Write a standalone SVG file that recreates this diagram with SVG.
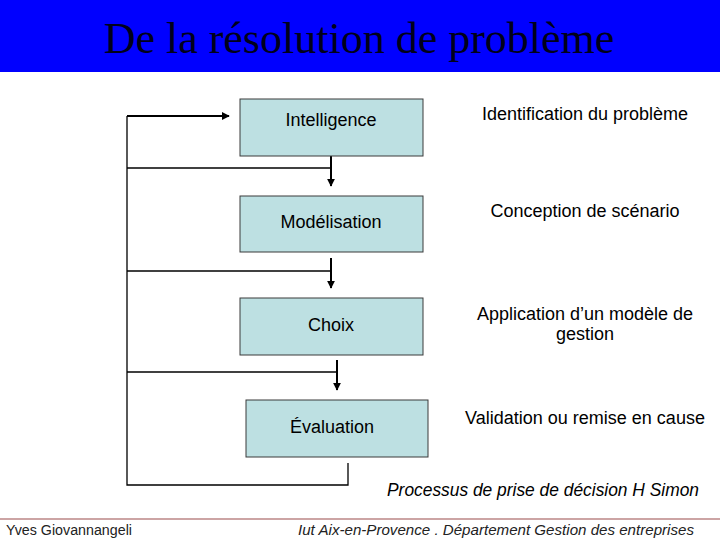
<svg xmlns="http://www.w3.org/2000/svg" width="720" height="540" viewBox="0 0 720 540">
<defs>
<style>
.box{fill:#bde0e2;stroke:#3a3a3a;stroke-width:1}
.lbl{font-family:"Liberation Sans",Arial,sans-serif;font-size:18px;fill:#000;text-anchor:middle}
.thin{fill:none;stroke:#000;stroke-width:1.3}
.thick{fill:none;stroke:#000;stroke-width:2}
</style>
<marker id="ah" viewBox="0 0 10 10" refX="9" refY="5" markerWidth="4" markerHeight="4" orient="auto" markerUnits="strokeWidth">
<path d="M0,0 L10,5 L0,10 z" fill="#000"/>
</marker>
</defs>
<rect x="0" y="0" width="720" height="72" fill="#0000ff"/>
<text x="359" y="53" font-family="'Liberation Serif','Times New Roman',serif" font-size="44" fill="#00001a" text-anchor="middle">De la résolution de problème</text>

<g id="connectors">
<path class="thin" d="M127,168 H331"/>
<path class="thin" d="M127,271 H331"/>
<path class="thin" d="M127,372 H337"/>
<path class="thin" d="M348,463 V485 H127 V116"/>
<path class="thick" d="M127,116 H229" marker-end="url(#ah)"/>
<path class="thick" d="M331,156 V186" marker-end="url(#ah)"/>
<path class="thick" d="M331,258 V288" marker-end="url(#ah)"/>
<path class="thick" d="M337,360 V390" marker-end="url(#ah)"/>
</g>

<g id="intelligence">
<rect class="box" x="240" y="99" width="183" height="57"/>
<text class="lbl" x="331" y="126">Intelligence</text>
</g>
<g id="modelisation">
<rect class="box" x="240" y="196" width="183" height="56"/>
<text class="lbl" x="331" y="228">Modélisation</text>
</g>
<g id="choix">
<rect class="box" x="240" y="298" width="183" height="57"/>
<text class="lbl" x="331" y="331">Choix</text>
</g>
<g id="evaluation">
<rect class="box" x="246" y="400" width="182" height="57"/>
<text class="lbl" x="332" y="433">Évaluation</text>
</g>

<g id="descriptions">
<text class="lbl" x="585" y="120">Identification du problème</text>
<text class="lbl" x="585" y="217">Conception de scénario</text>
<text class="lbl" x="585" y="320">Application d’un modèle de</text>
<text class="lbl" x="585" y="340">gestion</text>
<text class="lbl" x="585" y="424">Validation ou remise en cause</text>
</g>

<text x="387" y="496" font-family="'Liberation Sans',Arial,sans-serif" font-size="17.5" font-style="italic" fill="#000" textLength="312" lengthAdjust="spacingAndGlyphs">Processus de prise de décision H Simon</text>

<line x1="0" y1="519" x2="720" y2="519" stroke="#9a4a4a" stroke-width="1.2"/>
<text x="6" y="535" font-family="'Liberation Sans',Arial,sans-serif" font-size="14" fill="#222" textLength="126" lengthAdjust="spacingAndGlyphs">Yves Giovannangeli</text>
<text x="298" y="535" font-family="'Liberation Sans',Arial,sans-serif" font-size="14" font-style="italic" fill="#222" textLength="396" lengthAdjust="spacingAndGlyphs">Iut Aix-en-Provence . Département Gestion des entreprises</text>
</svg>
